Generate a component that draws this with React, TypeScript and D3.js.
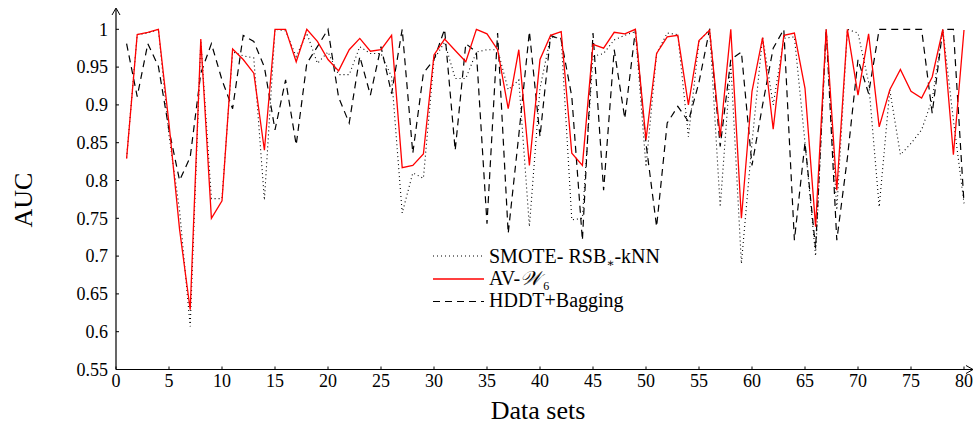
import React from "react";
import * as d3 from "d3";

const dataSets: number[] = d3.range(1, 81);

const smoteRsb: number[] = [
  0.83, 0.993, 0.995, 1.0, 0.86, 0.76, 0.607, 0.985, 0.776, 0.776,
  0.97, 0.965, 0.962, 0.774, 1.0, 0.998, 0.964, 0.995, 0.955, 0.97,
  0.94, 0.94, 0.977, 0.968, 0.968, 0.937, 0.757, 0.81, 0.803, 0.96,
  0.983, 0.935, 0.935, 0.97, 0.973, 0.973, 0.92, 0.933, 0.739, 0.922,
  0.99, 0.988, 0.748, 0.75, 0.964, 0.968, 0.986, 0.992, 0.997, 0.818,
  0.968, 0.995, 0.993, 0.858, 0.984, 1.0, 0.765, 0.955, 0.69, 0.85,
  0.99, 0.9, 0.988, 0.99, 0.85, 0.7, 1.0, 0.761, 1.0, 0.995,
  0.93, 0.765, 0.92, 0.834, 0.849, 0.867, 0.907, 1.0, 0.88, 0.77,
];

const avW6: number[] = [
  0.829, 0.993, 0.996, 1.0, 0.875, 0.735, 0.629, 0.987, 0.75, 0.773,
  0.974, 0.96, 0.942, 0.84, 1.0, 1.0, 0.957, 1.0, 0.984, 0.96,
  0.945, 0.973, 0.988, 0.971, 0.973, 0.992, 0.817, 0.82, 0.835, 0.966,
  0.987, 0.972, 0.957, 1.0, 0.994, 0.973, 0.895, 0.973, 0.82, 0.96,
  0.992, 0.997, 0.836, 0.82, 0.98, 0.975, 0.996, 0.994, 1.0, 0.854,
  0.968, 0.99, 0.992, 0.9, 0.985, 0.999, 0.858, 1.0, 0.75, 0.918,
  0.989, 0.868, 0.992, 0.995, 0.922, 0.739, 1.0, 0.787, 1.0, 0.913,
  0.994, 0.871, 0.92, 0.947, 0.918, 0.909, 0.937, 1.0, 0.834, 0.999,
];

const hddtBagging: number[] = [
  0.981, 0.911, 0.981, 0.951, 0.867, 0.8, 0.831, 0.942, 0.981, 0.933,
  0.895, 0.992, 0.984, 0.95, 0.867, 0.933, 0.847, 0.955, 0.977, 1.0,
  0.91, 0.876, 0.964, 0.913, 0.977, 0.915, 1.0, 0.836, 0.942, 0.96,
  1.0, 0.84, 0.981, 0.97, 0.743, 0.995, 0.73, 0.86, 0.997, 0.858,
  0.992, 0.986, 0.911, 0.721, 0.995, 0.787, 0.973, 0.882, 0.999, 0.849,
  0.739, 0.876, 0.898, 0.878, 0.93, 1.0, 0.845, 0.96, 0.97, 0.82,
  0.9, 0.975, 1.0, 0.721, 0.85, 0.71, 1.0, 0.721, 0.83, 0.96,
  0.915, 1.0, 1.0, 1.0, 1.0, 1.0, 0.889, 1.0, 1.0, 0.77,
];

const xTicks: number[] = [0, 5, 10, 15, 20, 25, 30, 35, 40, 45, 50, 55, 60, 65, 70, 75, 80];
const yTicks: number[] = [0.55, 0.6, 0.65, 0.7, 0.75, 0.8, 0.85, 0.9, 0.95, 1];

const W = 977;
const H = 426;
const FONT = '"Liberation Serif", "Times New Roman", Times, "DejaVu Serif", serif';
const ts = { fontFamily: FONT };

export default function App() {
  const x = d3.scaleLinear().domain([0, 80]).range([116, 964]);
  const y = d3.scaleLinear().domain([0.55, 1]).range([369.5, 29.3]);

  const line = d3
    .line<number>()
    .x((_, i) => x(dataSets[i]))
    .y((d) => y(d));

  const x0 = x(0);
  const y0 = y(0.55);

  const fmt = (v: number) => (v === 1 ? "1" : String(+v.toFixed(2)));

  return (
    <svg
      width={W}
      height={H}
      style={{ position: "absolute", left: 0, top: 0, background: "#fff", fontFamily: FONT }}
    >
      <rect x={0} y={0} width={W} height={H} fill="#fff" />
      {/* series */}
      <path d={line(hddtBagging) || ""} fill="none" stroke="#000" strokeWidth={1.2} strokeDasharray="7,5" />
      <path d={line(smoteRsb) || ""} fill="none" stroke="#000" strokeWidth={1.1} strokeDasharray="1,3" />
      <path d={line(avW6) || ""} fill="none" stroke="#ff0000" strokeWidth={1.3} />

      {/* axes */}
      <line x1={x0} y1={y0} x2={x0} y2={9} stroke="#000" strokeWidth={1.2} />
      <path d={`M${x0 - 4},${15} L${x0},${8} L${x0 + 4},${15}`} fill="none" stroke="#000" strokeWidth={1} />
      <line x1={x0} y1={y0} x2={973} y2={y0} stroke="#000" strokeWidth={1.2} />
      <path d={`M${966},${y0 - 4} L${973},${y0} L${966},${y0 + 4}`} fill="none" stroke="#000" strokeWidth={1} />

      {yTicks.map((t) => (
        <g key={"y" + t}>
          <line x1={x0} x2={x0 + 3} y1={y(t)} y2={y(t)} stroke="#000" strokeWidth={1} />
          <text x={108} y={y(t)} dy="0.35em" textAnchor="end" fontSize={18} style={ts}>
            {fmt(t)}
          </text>
        </g>
      ))}
      {xTicks.map((t) => (
        <g key={"x" + t}>
          <line x1={x(t)} x2={x(t)} y1={y0} y2={y0 - 3} stroke="#000" strokeWidth={1} />
          <text x={x(t)} y={y0 + 17} textAnchor="middle" fontSize={18} style={ts}>
            {t}
          </text>
        </g>
      ))}

      <text x={538} y={419} textAnchor="middle" fontSize={26} style={ts}>
        Data sets
      </text>
      <text transform={`translate(32,200) rotate(-90)`} textAnchor="middle" fontSize={26} style={ts}>
        AUC
      </text>

      {/* legend */}
      <line x1={433} x2={484} y1={256} y2={256} stroke="#000" strokeWidth={1.1} strokeDasharray="1,3" />
      <text x={489} y={262.5} fontSize={20} style={ts}>
        SMOTE- RSB
        <tspan fontSize={12} dy={4}>∗</tspan>
        <tspan dy={-4}>-kNN</tspan>
      </text>
      <line x1={433} x2={484} y1={279} y2={279} stroke="#ff0000" strokeWidth={1.3} />
      <text x={489} y={285} fontSize={20} style={ts}>
        AV-<tspan fontStyle="italic">𝒲</tspan>
        <tspan fontSize={12} dy={5} dx={2}>6</tspan>
      </text>
      <line x1={433} x2={484} y1={301.5} y2={301.5} stroke="#000" strokeWidth={1.2} strokeDasharray="7,5" />
      <text x={489} y={307} fontSize={20} style={ts}>
        HDDT+Bagging
      </text>
    </svg>
  );
}
